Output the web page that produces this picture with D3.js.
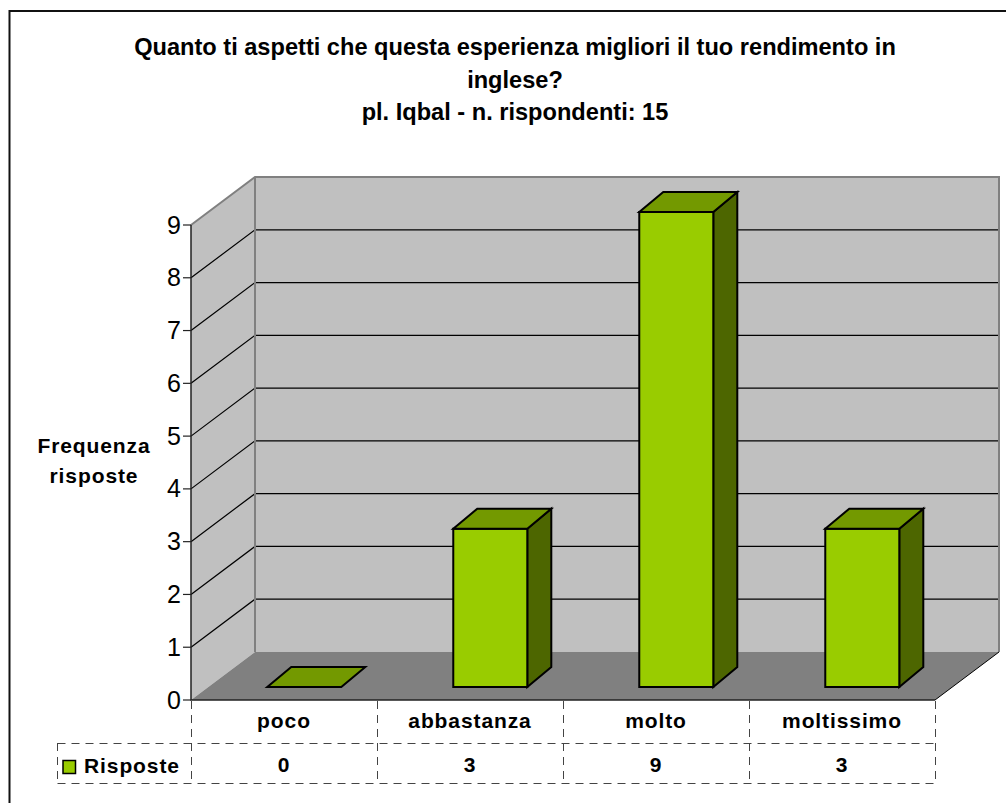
<!DOCTYPE html>
<html><head><meta charset="utf-8">
<script src="https://cdn.jsdelivr.net/npm/d3@7/dist/d3.min.js"></script>
<style>html,body{margin:0;padding:0;background:#fff}svg{display:block}text{font-family:"Liberation Sans",Arial,sans-serif;fill:#000}</style>
</head><body><svg id="c" width="1006" height="803"></svg>
<script>
const categories = ["poco","abbastanza","molto","moltissimo"];
const values = [0,3,9,3];
const yTicks = [0,1,2,3,4,5,6,7,8,9];
const titleLines = ["Quanto ti aspetti che questa esperienza migliori il tuo rendimento in","inglese?","pl. Iqbal - n. rispondenti: 15"];
const axisTitleLines = ["Frequenza","risposte"];
const seriesName = "Risposte";

const svg = d3.select("#c");
const x = d3.scaleBand().domain(categories).range([191,935]);
const y = d3.scaleLinear().domain([0,9]).range([700,225]);
const DX = 64, DY = -48;
const p = (px,v,z=0)=>[px+DX*z, y(v)+DY*z];
const line = d3.line();
const poly = pts => line(pts)+"Z";

// outer frame: only the top and left edges fall inside the picture
svg.append("path").attr("d",line([[9.5,803],[9.5,11],[1006,11]])).attr("fill","none").attr("stroke","#111").attr("stroke-width",2);

titleLines.forEach((t,i)=>svg.append("text").attr("x",515).attr("y",[55,88,120][i]).attr("text-anchor","middle").style("font-weight","bold").style("font-size","23.6px").text(t));

const xL = x.range()[0], xR = x.range()[1], vTop = 9;
// walls
svg.append("path").attr("d",poly([p(xL,0,0),p(xL,0,1),p(xL,vTop,1),p(xL,vTop,0)])).attr("fill","#c0c0c0");
svg.append("path").attr("d",poly([p(xL,0,1),p(xR,0,1),p(xR,vTop,1),p(xL,vTop,1)])).attr("fill","#c0c0c0");
svg.append("path").attr("d",poly([p(xL,0,0),p(xR,0,0),p(xR,0,1),p(xL,0,1)])).attr("fill","#808080");
// gridlines
yTicks.filter(d=>d>0&&d<9).forEach(d=>{
  svg.append("path").attr("d",line([p(xL,d,0),p(xL,d,1),p(xR,d,1)])).attr("fill","none").attr("stroke","#000").attr("stroke-width",1.2);
});
// wall outlines
svg.append("path").attr("d",line([p(xL,vTop,0),p(xL,vTop,1),p(xR,vTop,1),p(xR,0,1)])).attr("fill","none").attr("stroke","#808080").attr("stroke-width",2);
svg.append("path").attr("d",line([p(xL,vTop,1),p(xL,0,1)])).attr("fill","none").attr("stroke","#808080").attr("stroke-width",2);
svg.append("path").attr("d",line([p(xR,0,0),p(xR,0,1)])).attr("fill","none").attr("stroke","#000").attr("stroke-width",1);
// axes
svg.append("path").attr("d",line([p(xL,vTop,0),p(xL,0,0),p(xR,0,0)])).attr("fill","none").attr("stroke","#222").attr("stroke-width",1.5);
yTicks.forEach(d=>{
  svg.append("line").attr("x1",xL-8).attr("x2",xL).attr("y1",y(d)).attr("y2",y(d)).attr("stroke","#222").attr("stroke-width",1.2);
  svg.append("text").attr("x",xL-10).attr("y",y(d)+8.5).attr("text-anchor","end").style("font-size","25px").text(d);
});
// bars
const z0 = 0.27, barW = x.bandwidth()*0.398, barShift = 3, barDX = 24, barDY = -20;
values.forEach((v,i)=>{
  const xa = x(categories[i])+(x.bandwidth()-barW)/2+barShift, xb = xa+barW;
  const g = svg.append("g").attr("stroke","#000").attr("stroke-width",2).attr("stroke-linejoin","miter");
  const f = (px,val)=>p(px,val,z0);
  const b = (px,val)=>{const q=f(px,val);return [q[0]+barDX,q[1]+barDY];};
  if(v>0){
    g.append("path").attr("d",poly([f(xb,0),b(xb,0),b(xb,v),f(xb,v)])).attr("fill","#4d6600");
    g.append("path").attr("d",poly([f(xa,0),f(xb,0),f(xb,v),f(xa,v)])).attr("fill","#99cc00");
  }
  g.append("path").attr("d",poly([f(xa,v),f(xb,v),b(xb,v),b(xa,v)])).attr("fill","#739900");
});
// data table
const dash = "8,6";
const rowMid = 743, rowBot = 783, legL = 57.5;
const tbl = svg.append("g").attr("fill","none").attr("stroke","#444").attr("stroke-width",1).attr("stroke-dasharray",dash);
categories.forEach(c=>tbl.append("line").attr("x1",x(c)+.5).attr("x2",x(c)+.5).attr("y1",701).attr("y2",rowBot));
tbl.append("line").attr("x1",xR+.5).attr("x2",xR+.5).attr("y1",701).attr("y2",rowBot);
tbl.append("line").attr("x1",legL).attr("x2",legL).attr("y1",rowMid).attr("y2",rowBot);
tbl.append("line").attr("x1",legL).attr("x2",xR).attr("y1",rowMid+.5).attr("y2",rowMid+.5);
tbl.append("line").attr("x1",legL).attr("x2",xR).attr("y1",rowBot+.5).attr("y2",rowBot+.5);
const bold = s=>s.style("font-size","21px").style("font-weight","bold").style("letter-spacing","0.9px");
categories.forEach((c,i)=>{
  const cx = x(c)+x.bandwidth()/2;
  bold(svg.append("text").attr("x",cx).attr("y",728).attr("text-anchor","middle")).text(c);
  bold(svg.append("text").attr("x",cx).attr("y",772).attr("text-anchor","middle")).text(values[i]);
});
svg.append("rect").attr("x",63).attr("y",760.5).attr("width",12.5).attr("height",13).attr("fill","#99cc00").attr("stroke","#000").attr("stroke-width",1.5);
bold(svg.append("text").attr("x",84).attr("y",773)).text(seriesName);
axisTitleLines.forEach((t,i)=>bold(svg.append("text").attr("x",94).attr("y",453+i*30).attr("text-anchor","middle")).text(t));
</script></body></html>
